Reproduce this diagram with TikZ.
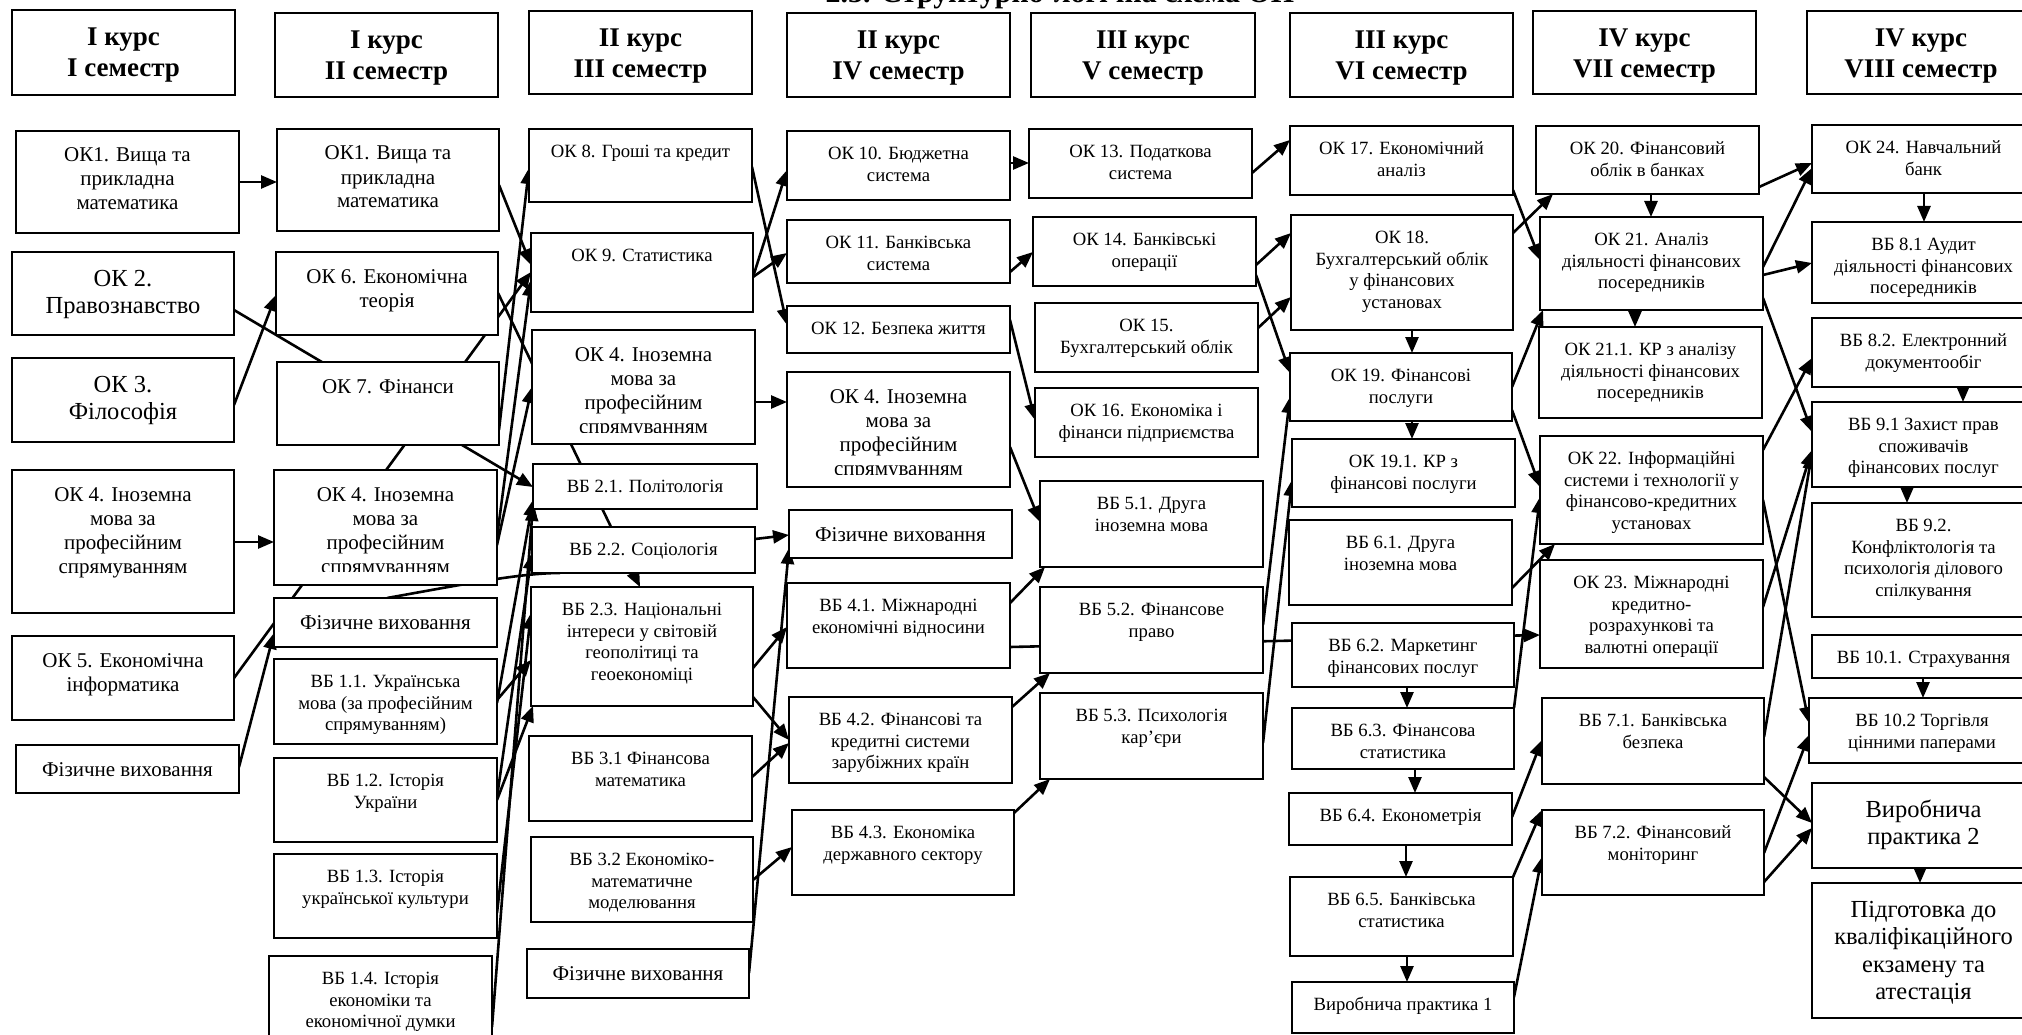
\documentclass[tikz,border=0pt]{standalone}
\usepackage{fontspec}
\setmainfont{Liberation Serif}
\usetikzlibrary{arrows.meta,backgrounds}
\newcommand\fsS{\fontsize{18.7}{21.7}\selectfont}
\newcommand\fsM{\fontsize{21}{24}\selectfont}
\newcommand\fsL{\fontsize{24.5}{27.5}\selectfont}
\newcommand\fsH{\fontsize{27}{31}\selectfont\bfseries}
\newcommand\bx[7][]{%
  \pgfmathsetmacro\bxw{#5-#3}%
  \pgfmathsetmacro\bxh{#6-#4}%
  \node[box, minimum width=\bxw pt, minimum height=\bxh pt, anchor=north west] (#2) at (#3,#4) {};%
  \node[lbl, #1] (#2-t) at (#2.north) {\strut #7};%
}
\newcommand\bxc[8][]{%
  \pgfmathsetmacro\bxw{#5-#3}%
  \pgfmathsetmacro\bxh{#6-#4}%
  \node[box, minimum width=\bxw pt, minimum height=\bxh pt, anchor=north west] (#2) at (#3,#4) {};%
  \begin{scope}
  \clip (#3,#4) rectangle (#5,#7);
  \node[lbl, #1] (#2-t) at (#2.north) {\strut #8};%
  \end{scope}%
}
\newcommand\hx[6]{%
  \pgfmathsetmacro\bxw{#4-#2}%
  \pgfmathsetmacro\bxh{#5-#3}%
  \node[box, line width=2.8pt, minimum width=\bxw pt, minimum height=\bxh pt, anchor=north west] (#1) at (#2,#3) {};%
  \node[lbl, fH] (#1-t) at (#1.north) {\strut #6};%
}
\tikzset{
  box/.style={draw, line width=2.2pt, fill=white, inner sep=0pt, outer sep=0pt},
  lbl/.style={anchor=north, align=center, inner sep=0pt, yshift=-13pt, font=\fsS},
  fM/.style={font=\fsM, yshift=-1pt},
  fL/.style={font=\fsL, yshift=-2pt},
  fH/.style={font=\fsH, yshift=-1pt},
  arr/.style={line width=2.6pt, -{Triangle[length=16pt,width=13pt]}},
  ln/.style={line width=2.6pt},
}
\begin{document}
\begin{tikzpicture}[x=1pt,y=-1pt]
\useasboundingbox (0,0) rectangle (2022,1035);
\node[font=\fontsize{30}{34}\selectfont\bfseries, anchor=base, inner sep=0pt] (title) at (1060,3) {2.3. Структурно-логічна схема ОП};
% headers
\hx{h1}{12}{10}{235}{95}{I курс\\I семестр}
\hx{h2}{275}{13}{498}{97}{I курс\\II семестр}
\hx{h3}{529}{11}{752}{94}{II курс\\III семестр}
\hx{h4}{787}{13}{1010}{97}{II курс\\IV семестр}
\hx{h5}{1031}{13}{1255}{97}{III курс\\V семестр}
\hx{h6}{1290}{13}{1513}{97}{III курс\\VI семестр}
\hx{h7}{1533}{11}{1756}{94}{IV курс\\VII семестр}
\hx{h8}{1807}{11}{2035}{94}{IV курс\\VIII семестр}
% column 1
\bx[fM]{c1a}{16}{131}{239}{233}{ОК1. Вища та\\прикладна\\математика}
\bx[fL]{c1b}{12}{252}{234}{335}{ОК 2.\\Правознавство}
\bx[fL]{c1c}{12}{358}{234}{442}{ОК 3.\\Філософія}
\bx[fM]{c1d}{12}{470}{234}{613}{ОК 4. Іноземна\\мова за\\професійним\\спрямуванням}
\bx[fM]{c1e}{12}{636}{234}{720}{ОК 5. Економічна\\інформатика}
\bx[fM]{c1f}{16}{745}{239}{793}{Фізичне виховання}
% column 2
\bx[fM]{c2a}{277}{129}{499}{231}{ОК1. Вища та\\прикладна\\математика}
\bx[fM]{c2b}{276}{252}{498}{335}{ОК 6. Економічна\\теорія}
\bx[fM]{c2c}{277}{362}{499}{445}{ОК 7. Фінанси}
\bxc[fM]{c2d}{274}{470}{497}{585}{571}{ОК 4. Іноземна\\мова за\\професійним\\спрямуванням}
\bx[fM]{c2e}{274}{598}{497}{647}{Фізичне виховання}
\bx{c2f}{274}{659}{497}{744}{ВБ 1.1. Українська\\мова (за професійним\\спрямуванням)}
\bx{c2g}{274}{758}{497}{842}{ВБ 1.2. Історія\\України}
\bx{c2h}{274}{854}{497}{938}{ВБ 1.3. Історія\\української культури}
\bx{c2i}{269}{956}{492}{1040}{ВБ 1.4. Історія\\економіки та\\економічної думки}
% column 3
\bx{c3a}{529}{129}{752}{202}{ОК 8. Гроші та кредит}
\bx{c3b}{531}{233}{753}{312}{ОК 9. Статистика}
\bxc[fM]{c3c}{532}{330}{755}{444}{432}{ОК 4. Іноземна\\мова за\\професійним\\спрямуванням}
\bx{c3d}{533}{464}{757}{509}{ВБ 2.1. Політологія}
\bx{c3e}{532}{527}{755}{573}{ВБ 2.2. Соціологія}
\bx{c3f}{531}{587}{753}{706}{ВБ 2.3. Національні\\інтереси у світовій\\геополітиці та\\геоекономіці}
\bx{c3g}{529}{736}{752}{821}{ВБ 3.1 Фінансова\\математика}
\bx{c3h}{531}{837}{753}{922}{ВБ 3.2 Економіко-\\математичне\\моделювання}
\bx[fM]{c3i}{527}{949}{749}{998}{Фізичне виховання}
% column 4
\bx{c4a}{787}{131}{1010}{200}{ОК 10. Бюджетна\\система}
\bx{c4b}{787}{220}{1010}{283}{ОК 11. Банківська\\система}
\bx{c4c}{787}{306}{1010}{353}{ОК 12. Безпека життя}
\bxc[fM]{c4d}{787}{372}{1010}{487}{474}{ОК 4. Іноземна\\мова за\\професійним\\спрямуванням}
\bx[fM]{c4e}{789}{510}{1012}{558}{Фізичне виховання}
\bx{c4f}{787}{583}{1010}{668}{ВБ 4.1. Міжнародні\\економічні відносини}
\bx{c4g}{789}{697}{1012}{783}{ВБ 4.2. Фінансові та\\кредитні системи\\зарубіжних країн}
\bx{c4h}{792}{810}{1014}{895}{ВБ 4.3. Економіка\\державного сектору}
% column 5
\bx{c5a}{1029}{129}{1252}{198}{ОК 13. Податкова\\система}
\bx{c5b}{1033}{217}{1256}{286}{ОК 14. Банківські\\операції}
\bx{c5c}{1035}{303}{1258}{372}{ОК 15.\\Бухгалтерський облік}
\bx{c5d}{1035}{388}{1258}{457}{ОК 16. Економіка і\\фінанси підприємства}
\bx{c5e}{1040}{481}{1263}{567}{ВБ 5.1. Друга\\іноземна мова}
\bx{c5f}{1040}{587}{1263}{673}{ВБ 5.2. Фінансове\\право}
\bx{c5g}{1040}{693}{1263}{779}{ВБ 5.3. Психологія\\кар'єри}
% column 6
\bx{c6a}{1290}{126}{1513}{195}{ОК 17. Економічний\\аналіз}
\bx{c6b}{1291}{215}{1513}{330}{ОК 18.\\Бухгалтерський облік\\у фінансових\\установах}
\bx{c6c}{1290}{353}{1512}{421}{ОК 19. Фінансові\\послуги}
\bx{c6d}{1292}{439}{1515}{507}{ОК 19.1. КР з\\фінансові послуги}
\bx{c6e}{1289}{520}{1512}{605}{ВБ 6.1. Друга\\іноземна мова}
\bx{c6f}{1292}{623}{1514}{687}{ВБ 6.2. Маркетинг\\фінансових послуг}
\bx{c6g}{1292}{708}{1514}{769}{ВБ 6.3. Фінансова\\статистика}
\bx{c6h}{1289}{793}{1512}{845}{ВБ 6.4. Економетрія}
\bx{c6i}{1290}{877}{1513}{956}{ВБ 6.5. Банківська\\статистика}
\bx{c6j}{1292}{982}{1514}{1033}{Виробнича практика 1}
% column 7
\bx{c7a}{1536}{126}{1759}{194}{ОК 20. Фінансовий\\облік в банках}
\bx{c7b}{1540}{217}{1763}{310}{ОК 21. Аналіз\\діяльності фінансових\\посередників}
\bx{c7c}{1539}{327}{1762}{418}{ОК 21.1. КР з аналізу\\діяльності фінансових\\посередників}
\bx{c7d}{1540}{436}{1763}{544}{ОК 22. Інформаційні\\системи і технології у\\фінансово-кредитних\\установах}
\bx{c7e}{1540}{560}{1763}{668}{ОК 23. Міжнародні\\кредитно-\\розрахункові та\\валютні операції}
\bx{c7f}{1542}{698}{1764}{784}{ВБ 7.1. Банківська\\безпека}
\bx{c7g}{1542}{810}{1764}{895}{ВБ 7.2. Фінансовий\\моніторинг}
% column 8
\bx{c8a}{1812}{125}{2035}{193}{ОК 24. Навчальний\\банк}
\bx{c8b}{1812}{222}{2035}{303}{ВБ 8.1 Аудит\\діяльності фінансових\\посередників}
\bx{c8c}{1812}{318}{2035}{387}{ВБ 8.2. Електронний\\документообіг}
\bx{c8d}{1812}{402}{2035}{487}{ВБ 9.1 Захист прав\\споживачів\\фінансових послуг}
\bx{c8e}{1812}{503}{2035}{617}{ВБ 9.2.\\Конфліктологія та\\психологія ділового\\спілкування}
\bx{c8f}{1812}{635}{2035}{678}{ВБ 10.1. Страхування}
\bx{c8g}{1809}{698}{2035}{763}{ВБ 10.2 Торгівля\\цінними паперами}
\bx[fL]{c8h}{1812}{783}{2035}{868}{Виробнича\\практика 2}
\bx[fL]{c8i}{1812}{883}{2035}{1018}{Підготовка до\\кваліфікаційного\\екзамену та\\атестація}
% connectors
\begin{scope}[on background layer]
% col1 -> col2
\draw[arr] (c1a.east |- 0,182) -- (c2a.west |- 0,182);
\draw[arr] (c1b.east |- 0,310) -- (c3d.west |- 0,487);
\draw[arr] (c1c.east |- 0,405) -- (c2b.west |- 0,295);
\draw[arr] (c1d.east |- 0,542) -- (c2d.west |- 0,542);
\draw[arr] (c1e.east |- 0,678) -- (c3b.west |- 0,272);
\draw[arr] (c1f.east |- 0,767) -- (c2e.west |- 0,633);
% col2 -> col3
\draw[arr] (c2a.east |- 0,185) -- (c3b.west |- 0,265);
\draw[arr] (c2b.east |- 0,293) -- (c3f.north -| 640,0);
\draw[arr] (c2c.east |- 0,430) -- (c3a.west |- 0,168);
\draw[arr] (c2d.east |- 0,537) -- (c3b.west |- 0,280);
\draw[arr] (c2d.east |- 0,545) -- (c3c.west |- 0,387);
\draw[ln] (c2e.north -| 387,0) .. controls (460,585) and (520,573) .. (c3e.south -| 560,0);
\draw[arr] (c2f.east |- 0,700) -- (c3f.west |- 0,660);
\draw[arr] (c2f.east |- 0,703) -- (c3d.west |- 0,500);
\draw[arr] (c2g.east |- 0,797) -- (c3e.west |- 0,553);
\draw[arr] (c2g.east |- 0,800) -- (c3f.south -| 533,0);
\draw[arr] (c2h.east |- 0,913) -- (c3f.west |- 0,613);
\draw[arr] (c2i.east |- 0,1027) -- (c3d.west |- 0,505);
% col3 -> col4
\draw[arr] (c3a.east |- 0,167) -- (c4c.west |- 0,325);
\draw[arr] (c3b.east |- 0,277) -- (c4a.west |- 0,170);
\draw[arr] (c3b.east |- 0,277) -- (c4b.west |- 0,253);
\draw[arr] (c3c.east |- 0,402) -- (c4d.west |- 0,402);
\draw[arr] (c3e.east |- 0,539) -- (c4e.west |- 0,535);
\draw[arr] (c3f.east |- 0,668) -- (c4f.west |- 0,627);
\draw[arr] (c3f.east |- 0,697) -- (c4g.west |- 0,740);
\draw[arr] (c3g.east |- 0,777) -- (c4g.west |- 0,743);
\draw[arr] (c3h.east |- 0,880) -- (c4h.west |- 0,847);
\draw[arr] (c3i.east |- 0,973) -- (c4e.west |- 0,548);
% col4 -> col5
\draw[arr] (c4a.east |- 0,163) -- (c5a.west |- 0,163);
\draw[arr] (c4b.east |- 0,272) -- (c5b.west |- 0,252);
\draw[arr] (c4c.east |- 0,320) -- (c5d.west |- 0,420);
\draw[arr] (c4d.east |- 0,447) -- (c5e.west |- 0,522);
\draw[arr] (c4f.east |- 0,603) -- (c5e.south -| 1045,0);
\draw[arr] (c4f.east |- 0,647) -- (c7e.west |- 0,635);
\draw[arr] (c4g.east |- 0,707) -- (c5f.south -| 1050,0);
\draw[arr] (c4h.east |- 0,813) -- (c5g.south -| 1050,0);
% col5 -> col6
\draw[arr] (c5a.east |- 0,173) -- (c6a.west |- 0,140);
\draw[arr] (c5b.east |- 0,265) -- (c6b.west |- 0,233);
\draw[arr] (c5c.east |- 0,328) -- (c6b.west |- 0,297);
\draw[arr] (c5b.east |- 0,275) -- (c6c.west |- 0,373);
\draw[arr] (c5f.east |- 0,625) -- (c6c.west |- 0,397);
\draw[arr] (c5g.east |- 0,743) -- (c6d.west |- 0,480);
% col6 vertical
\draw[arr] (c6b.south -| 1412,0) -- (c6c.north -| 1412,0);
\draw[arr] (c6c.south -| 1412,0) -- (c6d.north -| 1412,0);
\draw[arr] (c6f.south -| 1407,0) -- (c6g.north -| 1407,0);
\draw[arr] (c6g.south -| 1415,0) -- (c6h.north -| 1415,0);
\draw[arr] (c6h.south -| 1406,0) -- (c6i.north -| 1406,0);
\draw[arr] (c6i.south -| 1407,0) -- (c6j.north -| 1407,0);
% col6 -> col7
\draw[arr] (c6a.east |- 0,190) -- (c7b.west |- 0,260);
\draw[arr] (c6b.east |- 0,233) -- (c7a.south -| 1553,0);
\draw[arr] (c6c.east |- 0,387) -- (c7b.south -| 1543,0);
\draw[arr] (c6c.east |- 0,410) -- (c7d.west |- 0,487);
\draw[arr] (c6e.east |- 0,588) -- (c7d.south -| 1555,0);
\draw[arr] (c6g.east |- 0,708) -- (c7d.west |- 0,497);
\draw[arr] (c6h.east |- 0,817) -- (c7f.west |- 0,740);
\draw[arr] (c6i.north east) -- (c7g.north west);
\draw[arr] (c6j.east |- 0,997) -- (c7g.west |- 0,857);
% col7 vertical
\draw[arr] (c7a.south -| 1651,0) -- (c7b.north -| 1651,0);
\draw[arr] (c7b.south -| 1635,0) -- (c7c.north -| 1635,0);
% col7 -> col8
\draw[arr] (c7a.east |- 0,187) -- (c8a.west |- 0,163);
\draw[arr] (c7b.east |- 0,267) -- (c8a.west |- 0,168);
\draw[arr] (c7b.east |- 0,275) -- (c8b.west |- 0,263);
\draw[arr] (c7b.east |- 0,298) -- (c8d.west |- 0,432);
\draw[arr] (c7d.east |- 0,450) -- (c8c.west |- 0,358);
\draw[arr] (c7d.east |- 0,500) -- (c8g.west |- 0,723);
\draw[arr] (c7e.east |- 0,607) -- (c8d.west |- 0,450);
\draw[arr] (c7f.east |- 0,737) -- (c8d.west |- 0,453);
\draw[arr] (c7f.east |- 0,777) -- (c8h.west |- 0,823);
\draw[arr] (c7g.east |- 0,853) -- (c8g.west |- 0,735);
\draw[arr] (c7g.east |- 0,882) -- (c8h.west |- 0,828);
% col8 vertical
\draw[arr] (c8a.south -| 1924,0) -- (c8b.north -| 1924,0);
\draw[arr] (c8c.south -| 1963,0) -- (c8d.north -| 1963,0);
\draw[arr] (c8d.south -| 1907,0) -- (c8e.north -| 1907,0);
\draw[arr] (c8f.south -| 1923,0) -- (c8g.north -| 1923,0);
\draw[arr] (c8h.south -| 1920,0) -- (c8i.north -| 1920,0);
\end{scope}
\end{tikzpicture}
\end{document}
